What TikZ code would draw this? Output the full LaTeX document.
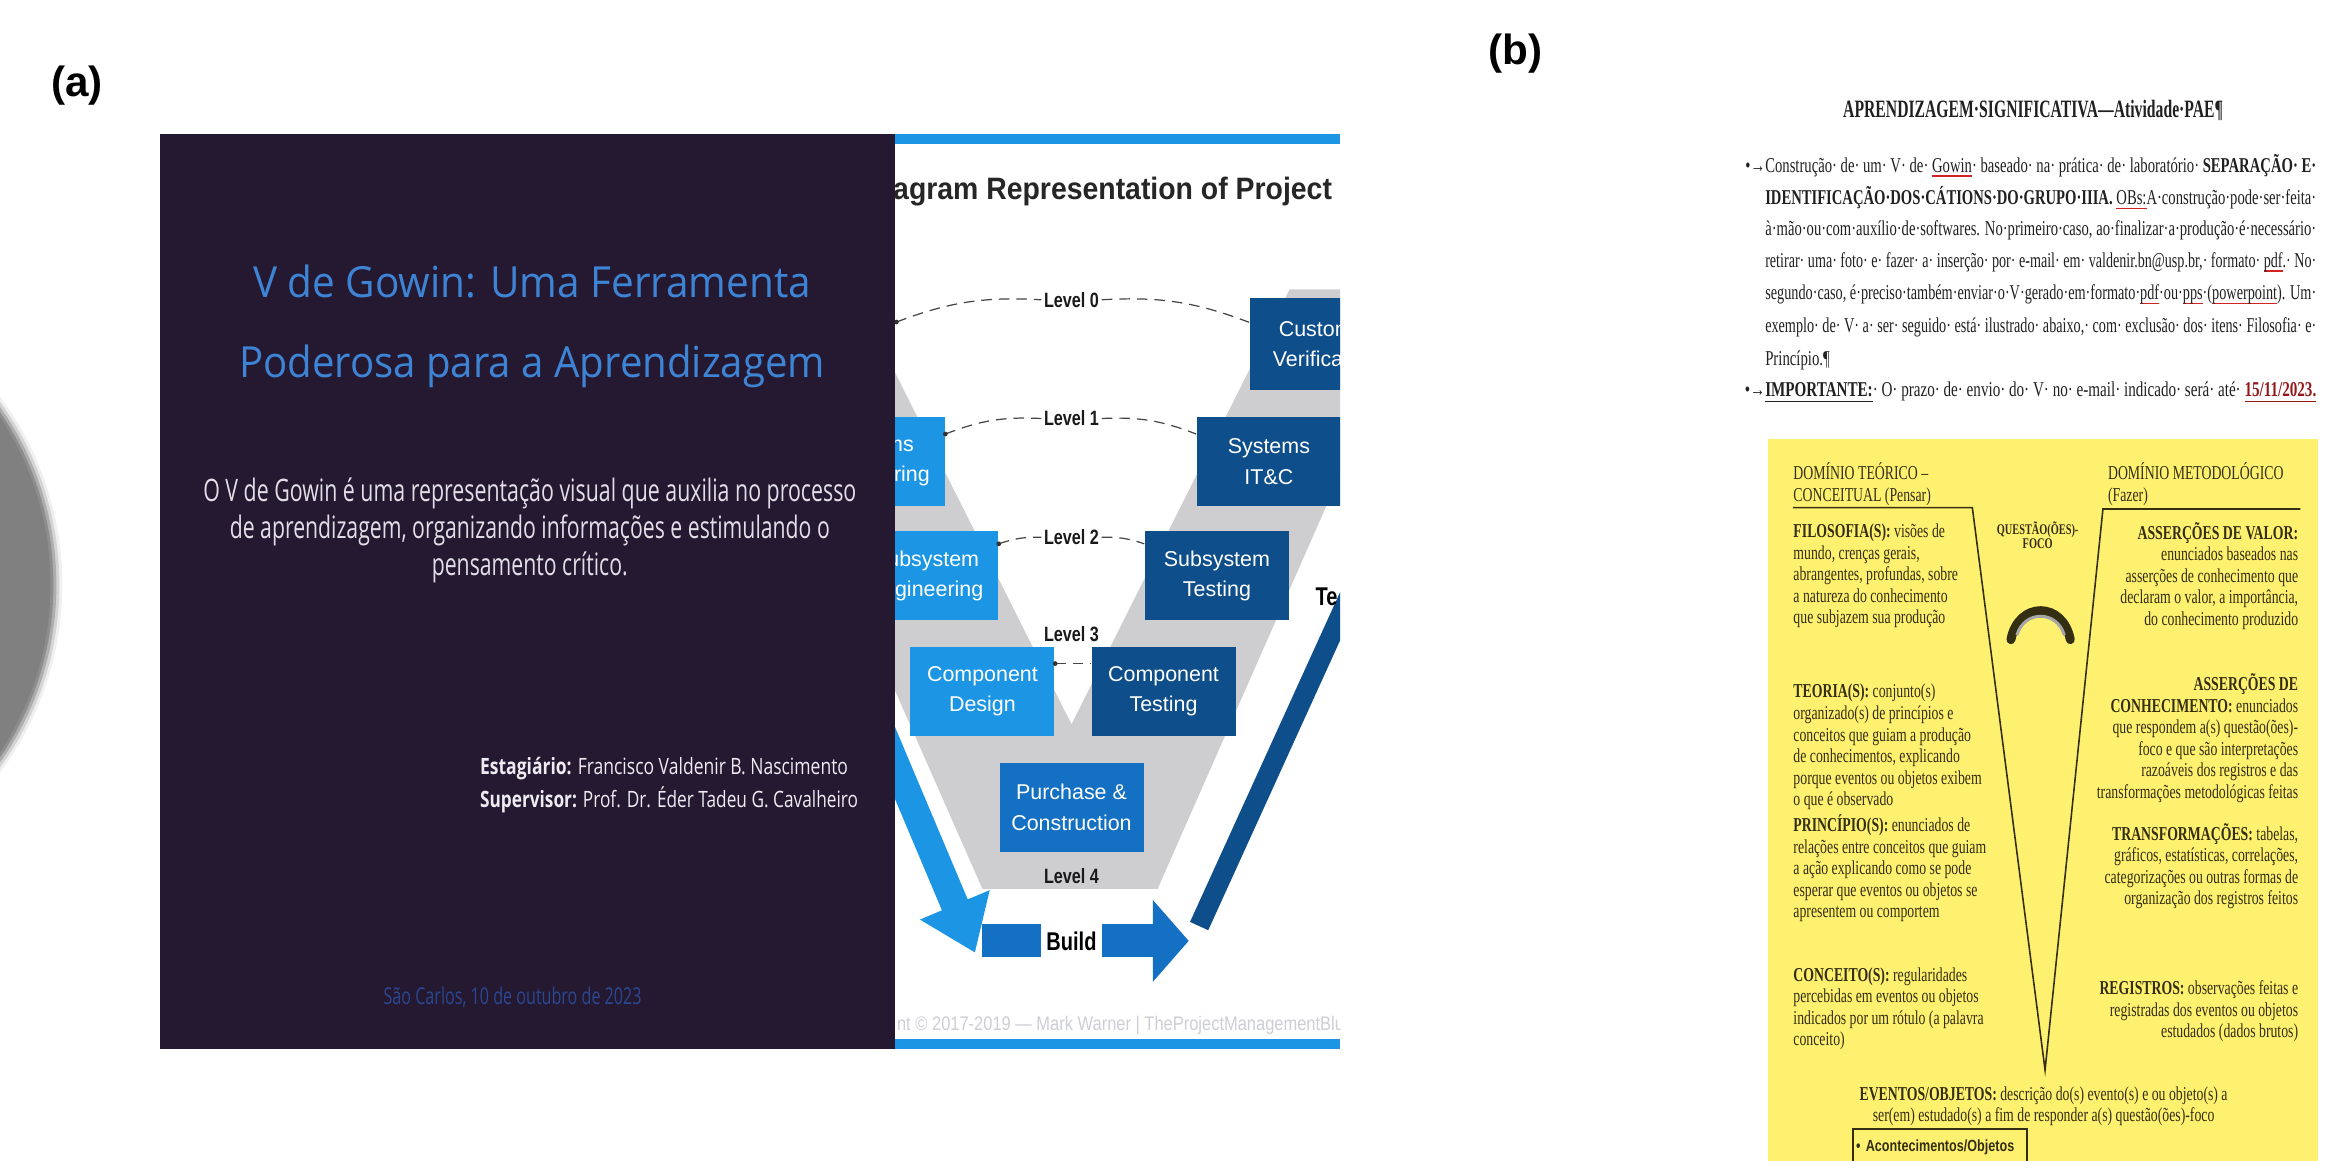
\documentclass[tikz,border=0pt]{standalone}
\usepackage{fontspec}
\setmainfont{Liberation Serif}
\newfontfamily\labelfont{Liberation Sans}
\newfontfamily\slidefont{Open Sans}
\newfontfamily\vfont{Liberation Sans}
\newfontfamily\vnarrow[FakeStretch=0.78]{Liberation Sans}
\newfontfamily\docfont[FakeStretch=0.7]{Liberation Serif}
\usetikzlibrary{positioning,arrows.meta,calc}

\definecolor{slidebg}{RGB}{37,24,49}
\definecolor{titleblue}{RGB}{62,132,212}
\definecolor{bodygrey}{RGB}{226,222,232}
\definecolor{credwhite}{RGB}{238,235,242}
\definecolor{dateblue}{RGB}{42,72,145}
\definecolor{vlight}{RGB}{28,150,228}
\definecolor{vmid}{RGB}{20,112,195}
\definecolor{vdark}{RGB}{14,78,138}
\definecolor{vband}{RGB}{206,206,208}
\definecolor{discgrey}{RGB}{128,128,128}
\definecolor{docyellow}{RGB}{255,241,112}
\definecolor{docink}{RGB}{32,32,32}
\definecolor{yink}{RGB}{52,46,18}
\definecolor{spellred}{RGB}{210,35,35}
\definecolor{datered}{RGB}{150,25,25}
\definecolor{creditgrey}{RGB}{205,206,214}

% squeeze a line to a given width, height untouched
\newcommand{\fitto}[2]{\resizebox{#1}{\height}{#2}}
% justified line of the handout
\newcommand{\docline}[1]{\resizebox{55.1mm}{\height}{#1}}
% red spell-check mark under a word
\newcommand{\spell}[1]{\setbox0\hbox{#1}\rlap{\textcolor{spellred}{\rule[-1.3pt]{\wd0}{0.4pt}}}\box0}
% keeps the first line of the V texts at a fixed height
\newcommand{\yst}{\rule{0pt}{5pt}}

\tikzset{
  panellabel/.style={font=\labelfont\bfseries\fontsize{12}{14}\selectfont, inner sep=0},
  vtitle/.style={font=\vfont\bfseries\fontsize{8.8}{10}\selectfont, text=black!85, inner sep=0},
  vbox/.style={text=white, font=\vfont\fontsize{6.1}{8.6}\selectfont, align=center,
    inner sep=0, minimum width=14.4mm, minimum height=8.9mm},
  level/.style={font=\vnarrow\bfseries\fontsize{5.9}{6.5}\selectfont, inner sep=0.6pt, text=black!90},
  levelline/.style={densely dashed, gray!55!black, line width=0.35pt},
  bigarrow/.style={line width=2.8mm, -{Triangle[length=5.2mm,width=7.2mm]}},
  buildtag/.style={fill=white, font=\vnarrow\bfseries\fontsize{7.3}{8}\selectfont,
    minimum width=6.1mm, minimum height=3.8mm, inner sep=0},
  vlabel/.style={font=\vnarrow\bfseries\fontsize{7.3}{8}\selectfont, inner sep=0},
  credit/.style={font=\vfont\fontsize{5.6}{6}\selectfont, text=creditgrey, inner sep=0},
  gtitle/.style={font=\slidefont\fontsize{12.2}{22.8}\selectfont, text=titleblue, inner sep=0},
  gbody/.style={font=\slidefont\fontsize{8.8}{10}\selectfont, text=bodygrey, inner sep=0},
  gcredit/.style={font=\slidefont\fontsize{6.4}{8}\selectfont, text=credwhite, inner sep=0},
  gdate/.style={font=\slidefont\fontsize{6.6}{8}\selectfont, text=dateblue, inner sep=0},
  doctitle/.style={font=\docfont\bfseries\fontsize{7.1}{8}\selectfont, text=docink, inner sep=0},
  docpara/.style={font=\docfont\fontsize{6}{6.5}\selectfont, text=docink, inner sep=0, anchor=base west},
  ytext/.style={font=\docfont\fontsize{5.6}{6.12}\selectfont, text=yink, inner sep=0},
  vline/.style={yink, line width=0.45pt},
  ybox/.style={draw=yink, line width=0.6pt, text=yink, font=\vnarrow\bfseries\fontsize{4.6}{5}\selectfont,
    text width=16.8mm, minimum height=3.6mm, inner sep=0.8pt, align=left}
}

\begin{document}
\begin{tikzpicture}[x=0.14841mm, y=-0.14841mm]
  \useasboundingbox (0,0) rectangle (1568,782);

  % grey disc cut by the page edge
  \foreach \r/\o in {212/0.12,210/0.25,208/0.45,206/0.7,204/1}
    \fill[discgrey, opacity=\o] (-170,394) circle (\r);

  \node[panellabel] (laba) at (52,58) {(a)};
  \node[panellabel] (labb) at (1021,36) {(b)};

  %% (a) right half of the slide: the V model
  \begin{scope}
    \clip (603,90) rectangle (903,707);
    \fill[white] (603,90) rectangle (903,707);
    \fill[vband] (484,195) -- (575,195) -- (722,488) -- (869,195)
      -- (958,195) -- (780,599) -- (662,599) -- cycle;
    \fill[vlight] (603,90) rectangle (903,97);
    \fill[vlight] (603,700) rectangle (903,707);
    \node[vtitle, anchor=east] (vhead) at (898,129)
      {\fitto{49.4mm}{V-Diagram Representation of Project}};

    % big arrows
    \coordinate (downs) at (560,412);
    \coordinate (downe) at (657,642);
    \coordinate (ups) at (808,624);
    \coordinate (upe) at (960,290);
    \coordinate (builds) at (662,634);
    \coordinate (builde) at (801,634);
    \draw[bigarrow, vlight] (downs) -- (downe);
    \draw[vdark, line width=2.0mm] (ups) -- (upe);
    \draw[vmid, line width=3.3mm, -{Triangle[length=3.6mm,width=8mm]}] (builds) -- (builde);
    \node[buildtag] (build) at (722,634) {Build};
    \node[vlabel, anchor=west] (test) at (886,402) {Te};

    % boxes
    \node[vbox, fill=vdark, minimum width=15.1mm, minimum height=9.2mm] (cust) at (893,232) {Customer\\Verification};
    \node[vbox, fill=vlight] (syseng) at (588,311) {Systems\\Engineering};
    \node[vbox, fill=vdark] (systest) at (855,311) {Systems\\IT\&C};
    \node[vbox, fill=vlight] (subeng) at (624,388) {Subsystem\\Engineering};
    \node[vbox, fill=vdark] (subtest) at (820,388) {Subsystem\\Testing};
    \node[vbox, fill=vlight] (compdes) at (662,466) {Component\\Design};
    \node[vbox, fill=vdark] (comptest) at (784,466) {Component\\Testing};
    \node[vbox, fill=vmid] (purch) at (722,544) {Purchase \&\\Construction};

    % levels
    \node[level] (lv0) at (722,202) {Level 0};
    \node[level] (lv1) at (722,282) {Level 1};
    \node[level] (lv2) at (722,362) {Level 2};
    \node[level] (lv3) at (722,427) {Level 3};
    \node[level] (lv4) at (722,590) {Level 4};
    \coordinate (lv0a) at (604,217);
    \draw[levelline] (lv0a) to[bend left=12] (lv0.west);
    \draw[levelline] (lv0.east) to[bend left=12] ([yshift=2.2mm]cust.west);
    \draw[levelline] ([yshift=2.75mm]syseng.east) to[bend left=12] (lv1.west);
    \draw[levelline] (lv1.east) to[bend left=12] ([yshift=2.75mm]systest.west);
    \draw[levelline] ([yshift=3.2mm]subeng.east) to[bend left=10] (lv2.west);
    \draw[levelline] (lv2.east) to[bend left=10] ([yshift=3.2mm]subtest.west);
    \draw[levelline] ([yshift=2.8mm]compdes.east) -- ([yshift=2.8mm]comptest.west);
    \fill[gray!40!black] (lv0a) circle (1.6);
    \fill[gray!40!black] ([yshift=2.75mm]syseng.east) circle (1.6);
    \fill[gray!40!black] ([yshift=3.2mm]subeng.east) circle (1.6);
    \fill[gray!40!black] ([yshift=2.8mm]compdes.east) circle (1.6);

    \node[credit, anchor=west] (credit) at (604,691)
      {\fitto{44.7mm}{nt © 2017-2019 — Mark Warner | TheProjectManagementBlu}};
  \end{scope}

  %% (a) left half of the slide
  \fill[slidebg] (108,90) rectangle (603,707);
  \node[gtitle, align=center, anchor=north] (gtitle) at (358.5,176.3)
    {\rule{0pt}{10pt}\fitto{55.8mm}{V de Gowin: Uma Ferramenta}\\\fitto{58.6mm}{Poderosa para a Aprendizagem}};
  \node[gbody, anchor=base] (gb1) at (357,338)
    {\fitto{65.3mm}{O V de Gowin é uma representação visual que auxilia no processo}};
  \node[gbody, anchor=base] (gb2) at (357,363)
    {\fitto{60mm}{de aprendizagem, organizando informações e estimulando o}};
  \node[gbody, anchor=base] (gb3) at (357,388) {\fitto{19.6mm}{pensamento crítico.}};
  \node[gcredit, anchor=base west] (intern) at (323,522)
    {\fitto{36.8mm}{\textbf{Estagiário:} Francisco Valdenir B. Nascimento}};
  \node[gcredit, anchor=base west] (superv) at (323,544)
    {\fitto{37.8mm}{\textbf{Supervisor:} Prof. Dr. Éder Tadeu G. Cavalheiro}};
  \node[gdate, anchor=base west] (place) at (258,677)
    {\fitto{25.8mm}{São Carlos, 10 de outubro de 2023}};

  %% (b) handout
  \node[doctitle, anchor=base] (dtitle) at (1370,79) {\fitto{38mm}{APRENDIZAGEM·SIGNIFICATIVA—Atividade·PAE¶}};
  \node[docpara] (p1) at (1189,116) {\docline{\llap{•→}Construção· de· um· V· de· \spell{Gowin}· baseado· na· prática· de· laboratório· \textbf{SEPARAÇÃO· E·}}};
  \node[docpara] (p2) at (1189,138) {\docline{\textbf{IDENTIFICAÇÃO·DOS·CÁTIONS·DO·GRUPO·IIIA.} \spell{OBs:} A·construção·pode·ser·feita·}};
  \node[docpara] (p3) at (1189,159) {\docline{à·mão·ou·com·auxílio·de·softwares. No·primeiro·caso, ao·finalizar·a·produção·é·necessário·}};
  \node[docpara] (p4) at (1189,180) {\docline{retirar· uma· foto· e· fazer· a· inserção· por· e-mail· em· valdenir.bn@usp.br,· formato· \spell{pdf}.· No·}};
  \node[docpara] (p5) at (1189,202) {\docline{segundo·caso, é·preciso·também·enviar·o·V·gerado·em·formato·\spell{pdf}·ou·\spell{pps}·(\spell{powerpoint}). Um·}};
  \node[docpara] (p6) at (1189,224) {\docline{exemplo· de· V· a· ser· seguido· está· ilustrado· abaixo,· com· exclusão· dos· itens· Filosofia· e·}};
  \node[docpara] (p7) at (1189,246) {Princípio.¶};
  \node[docpara] (p8) at (1189,267) {\docline{\llap{•→}\underline{\textbf{IMPORTANTE:}}· O· prazo· de· envio· do· V· no· e-mail· indicado· será· até· \textcolor{datered}{\underline{\textbf{15/11/2023.}}}}};

  % Gowin's V on yellow
  \fill[docyellow] (1191,296) rectangle (1562,782);
  \coordinate (hl) at (1208,342);
  \coordinate (vtl) at (1329,342);
  \coordinate (vtip) at (1378,721);
  \coordinate (vtr) at (1417,343);
  \coordinate (hr) at (1550,343);
  \draw[vline] (hl) -- (vtl) -- (vtip) -- (vtr) -- (hr);

  \node[ytext, align=left, anchor=north west] (domt) at (1208,311)
    {\yst DOMÍNIO TEÓRICO –\\CONCEITUAL (Pensar)};
  \node[ytext, align=left, anchor=north west] (domm) at (1420,311)
    {\yst DOMÍNIO METODOLÓGICO\\(Fazer)};
  \node[ytext, align=center, anchor=north, font=\docfont\bfseries\fontsize{4.2}{3.8}\selectfont] (quest) at (1373,351)
    {\rule{0pt}{3.8pt}QUESTÃO(ÕES)-\\FOCO};
  \draw[yink, line width=0.9mm, line cap=round] (1355,431) .. controls (1360,405) and (1390,405) .. (1395,431);
  \draw[gray!70, line width=0.3mm] (1359,428) .. controls (1364,411) and (1386,411) .. (1391,428);

  \node[ytext, align=left, anchor=north west] (filo) at (1208,350)
    {\yst\textbf{FILOSOFIA(S):} visões de\\mundo, crenças gerais,\\abrangentes, profundas, sobre\\a natureza do conhecimento\\que subjazem sua produção};
  \node[ytext, align=left, anchor=north west] (teor) at (1208,458)
    {\yst\textbf{TEORIA(S):} conjunto(s)\\organizado(s) de princípios e\\conceitos que guiam a produção\\de conhecimentos, explicando\\porque eventos ou objetos exibem\\o que é observado};
  \node[ytext, align=left, anchor=north west] (princ) at (1208,548)
    {\yst\textbf{PRINCÍPIO(S):} enunciados de\\relações entre conceitos que guiam\\a ação explicando como se pode\\esperar que eventos ou objetos se\\apresentem ou comportem};
  \node[ytext, align=left, anchor=north west] (conc) at (1208,649)
    {\yst\textbf{CONCEITO(S):} regularidades\\percebidas em eventos ou objetos\\indicados por um rótulo (a palavra\\conceito)};

  \node[ytext, align=right, anchor=north east] (asval) at (1549,351)
    {\yst\textbf{ASSERÇÕES DE VALOR:}\\enunciados baseados nas\\asserções de conhecimento que\\declaram o valor, a importância,\\do conhecimento produzido};
  \node[ytext, align=right, anchor=north east] (ascon) at (1549,453)
    {\yst\textbf{ASSERÇÕES DE}\\\textbf{CONHECIMENTO:} enunciados\\que respondem a(s) questão(ões)-\\foco e que são interpretações\\razoáveis dos registros e das\\transformações metodológicas feitas};
  \node[ytext, align=right, anchor=north east] (transf) at (1549,554)
    {\yst\textbf{TRANSFORMAÇÕES:} tabelas,\\gráficos, estatísticas, correlações,\\categorizações ou outras formas de\\organização dos registros feitos};
  \node[ytext, align=right, anchor=north east] (regis) at (1549,658)
    {\yst\textbf{REGISTROS:} observações feitas e\\registradas dos eventos ou objetos\\estudados (dados brutos)};

  \node[ytext, align=center, anchor=north] (event) at (1377,729)
    {\yst\textbf{EVENTOS/OBJETOS:} descrição do(s) evento(s) e ou objeto(s) a\\ser(em) estudado(s) a fim de responder a(s) questão(ões)-foco};
  \node[ybox, anchor=north west] (acont) at (1248,760) {• Acontecimentos/Objetos};
\end{tikzpicture}
\end{document}
